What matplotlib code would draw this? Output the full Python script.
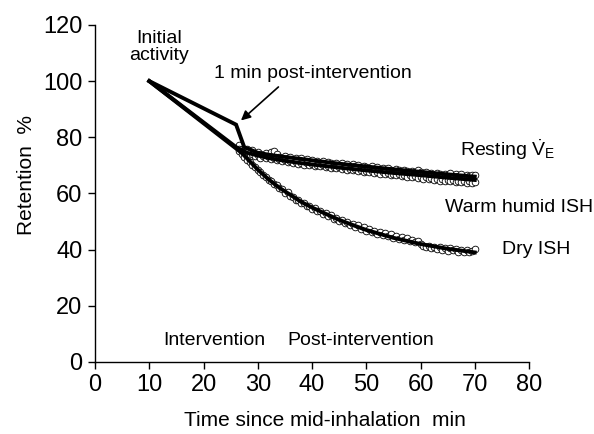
import numpy as np
import matplotlib
matplotlib.use("Agg")
import matplotlib.pyplot as plt

plt.rcParams['font.family'] = ["Liberation Sans", "DejaVu Sans"]
plt.rcParams['mathtext.fontset'] = 'custom'
plt.rcParams['mathtext.rm'] = "Liberation Sans"

# ---- data ----
t_start = 26.5
t_step = 0.5

resting = [77.2, 76.0, 75.4, 75.8, 74.6, 75.3, 74.2, 74.9, 74.0, 73.6, 74.4, 73.5, 74.8, 75.2, 74.1,
           73.0, 72.6, 73.4, 72.5, 73.1, 72.0, 72.8, 71.9, 72.5, 71.7, 72.4, 71.3, 71.9, 71.0, 71.6,
           70.8, 71.5, 70.4, 71.2, 70.9, 70.2, 70.8, 70.3, 70.9, 69.8, 70.4, 69.9, 70.5, 69.6, 70.1,
           69.3, 69.9, 69.4, 69.0, 69.7, 68.8, 69.5, 68.7, 69.1, 68.3, 68.9, 68.5, 68.0, 68.7, 68.2,
           67.6, 68.4, 67.9, 67.2, 68.0, 67.5, 68.3, 67.7, 67.0, 67.6, 66.8, 67.4, 66.6, 67.3, 66.9,
           66.3, 67.1, 66.5, 67.2, 66.0, 66.8, 66.2, 66.9, 65.9, 66.6, 66.1, 66.7, 66.4]

warm = [75.8, 74.9, 74.1, 74.6, 73.5, 74.0, 73.2, 73.7, 72.8, 73.3, 72.5, 72.9, 72.1, 72.6, 71.8,
        72.3, 71.5, 71.9, 71.2, 71.6, 70.9, 71.3, 70.6, 71.0, 70.3, 70.8, 70.1, 70.5, 69.8, 70.3,
        69.6, 70.0, 69.3, 69.8, 69.1, 69.5, 68.9, 69.3, 68.7, 69.0, 68.4, 68.8, 68.2, 68.6, 67.9,
        68.4, 67.7, 68.1, 67.5, 67.9, 67.3, 67.7, 67.0, 67.5, 66.8, 67.2, 66.6, 67.0, 66.4, 66.8,
        66.1, 66.6, 65.9, 66.4, 65.7, 66.1, 65.5, 65.9, 65.3, 65.7, 65.1, 65.5, 64.9, 65.3, 64.6,
        65.1, 64.4, 64.9, 64.3, 64.7, 64.1, 64.6, 64.0, 64.5, 63.9, 64.3, 63.8, 64.2]

dry = [75.0, 74.2, 73.0, 72.0, 71.2, 70.0, 69.4, 68.3, 67.8, 66.5, 66.0, 64.8, 64.5, 63.2, 63.0,
       61.8, 61.5, 60.3, 60.4, 59.0, 58.9, 57.8, 57.7, 56.6, 56.7, 55.5, 55.6, 54.6, 54.7, 53.6,
       53.9, 52.8, 53.0, 52.0, 52.2, 51.0, 51.4, 50.2, 50.6, 49.4, 49.9, 48.7, 49.2, 48.0, 48.6,
       47.4, 47.9, 46.8, 47.4, 46.2, 46.8, 45.7, 46.4, 45.2, 45.8, 44.7, 45.4, 44.2, 44.9, 43.8,
       44.4, 43.4, 44.0, 42.9, 43.6, 42.6, 43.0, 42.0, 41.2, 40.8, 41.4, 40.5, 41.1, 40.3, 40.9,
       39.9, 40.6, 39.6, 40.4, 39.8, 40.2, 39.3, 39.9, 39.1, 39.7, 39.0, 39.5, 40.3]

rest_fit_t = [10, 26, 27.5, 30, 32, 35, 38, 40, 45, 50, 55, 60, 65, 70]
rest_fit_y = [100, 84.5, 76.5, 74.5, 73.8, 73.0, 72.3, 71.8, 70.6, 69.6, 68.6, 67.7, 66.8, 66.0]
warm_fit_t = [10, 26, 28, 30, 32, 35, 38, 40, 45, 50, 55, 60, 65, 70]
warm_fit_y = [100, 76.5, 74.5, 73.5, 72.6, 71.6, 70.8, 70.3, 69.2, 68.2, 67.3, 66.5, 65.6, 64.8]
dry_fit_t = [10, 26, 27, 28, 30, 32, 34, 36, 38, 40, 42, 45, 48, 50, 55, 60, 65, 70]
dry_fit_y = [100, 76, 74.5, 72.5, 68.5, 65, 62, 59.5, 57, 55, 53.2, 50.6, 48.4, 47, 44.2, 42, 40.3, 39]

xticks = [0, 10, 20, 30, 40, 50, 60, 70, 80]
yticks = [0, 20, 40, 60, 80, 100, 120]

# ---- figure ----
fig = plt.figure(figsize=(5.94, 4.34), dpi=100)
ax = fig.add_axes([0.16, 0.166, 0.7306, 0.7765])

fs_tick = 17
fs_lab = 15
fs_ann = 14
for ser in (resting, warm, dry):
    t = t_start + t_step * np.arange(len(ser))
    ax.plot(t, ser, linestyle='none', marker='o', ms=4.8, mfc='white', mec='black', mew=0.6,
            clip_on=False, zorder=2)

for tt, yy in ((rest_fit_t, rest_fit_y), (warm_fit_t, warm_fit_y), (dry_fit_t, dry_fit_y)):
    ax.plot(tt, yy, color='black', lw=2.8, solid_joinstyle='miter', zorder=3)

ax.set_xlim(0, 80)
ax.set_ylim(0, 120)
ax.set_xticks(xticks)
ax.set_yticks(yticks)
ax.tick_params(direction='out', length=5, width=1, labelsize=fs_tick, pad=4)
for s in ('top', 'right'):
    ax.spines[s].set_visible(False)
for s in ('left', 'bottom'):
    ax.spines[s].set_linewidth(1)

ax.set_xlabel('Time since mid-inhalation  min', fontsize=fs_lab)
ax.xaxis.set_label_coords(0.53, -0.147)
ax.set_ylabel('Retention  %', fontsize=fs_lab)
ax.yaxis.set_label_coords(-0.135, 0.555)

ax.text(11.8, 112.2, 'Initial\nactivity', fontsize=fs_ann, ha='center', va='center', linespacing=1.05)
ax.annotate('1 min post-intervention', xy=(26.9, 86), xytext=(22, 102.6),
            fontsize=fs_ann, ha='left', va='center',
            arrowprops=dict(arrowstyle='-|>', color='black', lw=1.2, mutation_scale=14,
                            shrinkA=2, shrinkB=0, relpos=(0.35, 0)))
ax.text(67.3, 75.5, r'Resting $\dot{\mathrm{V}}_{\mathrm{E}}$', fontsize=fs_ann, ha='left', va='center')
ax.text(64.5, 55, 'Warm humid ISH', fontsize=fs_ann, ha='left', va='center', clip_on=False)
ax.text(75, 40, 'Dry ISH', fontsize=fs_ann, ha='left', va='center', clip_on=False)
ax.text(12.5, 7.5, 'Intervention', fontsize=fs_ann, ha='left', va='center')
ax.text(35.4, 7.5, 'Post-intervention', fontsize=fs_ann, ha='left', va='center')

fig.savefig('out.png', dpi=100)
